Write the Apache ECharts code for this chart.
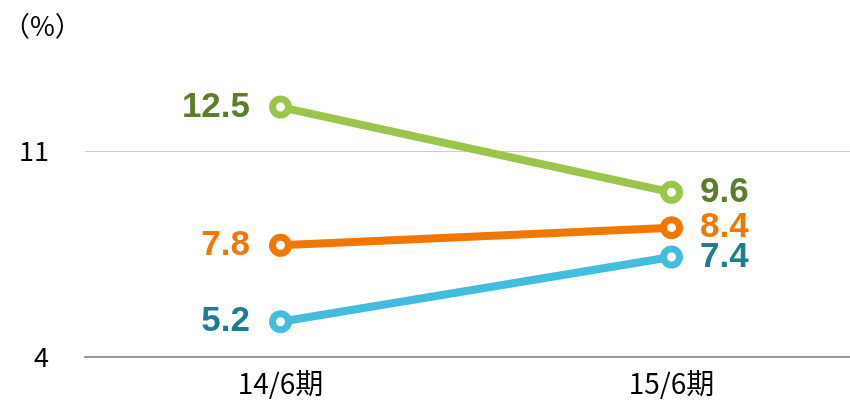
<!DOCTYPE html>
<html>
<head>
<meta charset="utf-8">
<script src="https://cdn.jsdelivr.net/npm/echarts@6/dist/echarts.min.js"></script>
<style>html,body{margin:0;padding:0;background:#fff}#c{width:850px;height:400px}</style>
</head>
<body>
<div id="c"></div>
<script>
const categories = ['14/6期', '15/6期'];
const greenValues = [12.5, 9.6];
const orangeValues = [7.8, 8.4];
const blueValues = [5.2, 7.4];
const unitLabel = '（%）';

const chart = echarts.init(document.getElementById('c'), null, {renderer: 'canvas'});

function mkSeries(values, lineColor, labelColor, z) {
  return {
    type: 'line',
    z: z,
    data: values.map((v, i) => ({
      value: v,
      label: {position: i === 0 ? 'left' : 'right', distance: i === 0 ? 19 : 17}
    })),
    symbol: 'circle',
    symbolSize: 16,
    itemStyle: {color: '#ffffff', borderColor: lineColor, borderWidth: 7},
    lineStyle: {color: lineColor, width: 8},
    label: {
      show: true,
      color: labelColor,
      fontFamily: '"Liberation Sans", Arial, sans-serif',
      fontWeight: 'bold',
      fontSize: 35,
      formatter: p => p.value.toFixed(1)
    },
    emphasis: {disabled: true},
    animation: false
  };
}

chart.setOption({
  animation: false,
  title: {
    text: unitLabel,
    left: -2,
    top: 7,
    textStyle: {fontFamily: '"Noto Sans CJK JP", sans-serif', fontWeight: 'normal', fontSize: 27, color: '#000'}
  },
  grid: {left: 85, right: -17, top: 63, bottom: 43, outerBoundsMode: 'none', containLabel: false},
  xAxis: {
    type: 'category',
    data: categories,
    boundaryGap: true,
    axisLine: {lineStyle: {color: '#999999', width: 2}},
    axisTick: {show: false},
    axisLabel: {
      fontFamily: '"Noto Sans CJK JP", sans-serif',
      fontSize: 28,
      color: '#000',
      margin: 12
    }
  },
  yAxis: {
    type: 'value',
    min: 4,
    max: 14,
    interval: 7,
    axisLine: {show: false},
    axisTick: {show: false},
    axisLabel: {
      showMaxLabel: false,
      fontFamily: '"Noto Sans CJK JP", sans-serif',
      fontSize: 27,
      color: '#000',
      margin: 36
    },
    splitLine: {showMaxLine: false, showMinLine: false, lineStyle: {color: '#cccccc', width: 1}}
  },
  series: [
    mkSeries(greenValues, '#9bc44b', '#5c7d2c', 3),
    mkSeries(orangeValues, '#f07800', '#f07800', 4),
    mkSeries(blueValues, '#43bddb', '#1f7d8f', 5)
  ]
});
</script>
</body>
</html>
